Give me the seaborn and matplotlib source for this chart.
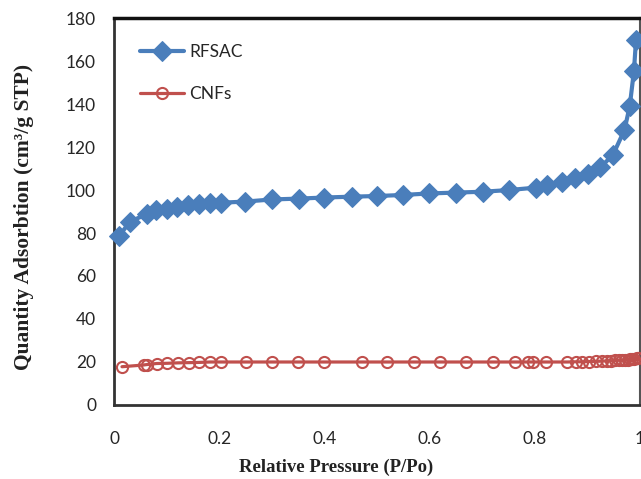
import matplotlib
matplotlib.use("Agg")
import matplotlib.pyplot as plt
import seaborn as sns
import pandas as pd

rfsac_x = [0.0095, 0.030, 0.062, 0.080, 0.100, 0.120, 0.141, 0.162, 0.183, 0.203,
           0.249, 0.300, 0.352, 0.400, 0.452, 0.500, 0.550, 0.600, 0.651, 0.702,
           0.752, 0.802, 0.823, 0.853, 0.876, 0.902, 0.925, 0.949, 0.971, 0.981,
           0.989, 0.993]
rfsac_y = [78.6, 85.2, 88.8, 90.7, 91.0, 92.2, 93.0, 93.3, 94.1, 94.1,
           94.6, 95.6, 96.0, 96.5, 96.9, 97.2, 97.7, 98.4, 98.8, 99.2,
           100.0, 101.1, 102.3, 103.9, 105.4, 107.4, 110.5, 116.3, 127.9, 139.0,
           155.3, 170.0]

cnf_x = [0.015, 0.056, 0.062, 0.081, 0.101, 0.122, 0.142, 0.162, 0.183, 0.203,
         0.250, 0.300, 0.350, 0.400, 0.472, 0.520, 0.570, 0.620, 0.670, 0.720,
         0.762, 0.788, 0.797, 0.822, 0.862, 0.878, 0.890, 0.903, 0.916, 0.928,
         0.938, 0.946, 0.953, 0.960, 0.966, 0.972, 0.977, 0.982, 0.986, 0.990,
         0.994, 0.997]
cnf_y = [17.8, 18.6, 18.8, 19.3, 19.4, 19.6, 19.7, 19.8, 20.0, 20.0,
         20.0, 20.0, 20.0, 20.0, 20.0, 20.0, 20.0, 20.0, 20.0, 20.0,
         20.0, 20.0, 20.0, 20.0, 20.0, 20.1, 20.1, 20.2, 20.3, 20.4,
         20.5, 20.6, 20.7, 20.8, 20.9, 21.0, 21.1, 21.3, 21.4, 21.6,
         21.8, 22.0]

x_ticks = [0, 0.2, 0.4, 0.6, 0.8, 1]
x_tick_labels = ["0", "0.2", "0.4", "0.6", "0.8", "1"]
y_ticks = [0, 20, 40, 60, 80, 100, 120, 140, 160, 180]

sns.set_style("white")
plt.rcParams['font.family'] = ['Lato', 'DejaVu Sans']

df_r = pd.DataFrame({"x": rfsac_x, "y": rfsac_y})
df_c = pd.DataFrame({"x": cnf_x, "y": cnf_y})

fig = plt.figure(figsize=(6.41, 4.79), dpi=100)
ax = fig.add_axes([0.178, 0.1545, 0.82, 0.8079])

blue = "#4A7EBB"
red = "#C0504D"
sns.lineplot(data=df_r, x="x", y="y", ax=ax, color=blue, lw=3, marker="D",
             markersize=10, markeredgecolor=blue, markerfacecolor=blue,
             sort=False, label="RFSAC", clip_on=False, zorder=3)
sns.lineplot(data=df_c, x="x", y="y", ax=ax, color=red, lw=2.3, marker="o",
             markersize=8, markeredgecolor=red, markerfacecolor="none",
             markeredgewidth=1.5, sort=False, label="CNFs", clip_on=False, zorder=3)

ax.set_xlim(0, 1)
ax.set_ylim(0, 180)
ax.set_xticks(x_ticks)
ax.set_xticklabels(x_tick_labels)
ax.set_yticks(y_ticks)
ax.tick_params(axis="both", which="both", direction="out", length=5, width=1,
               color="#888888", labelsize=12.5, labelcolor="#262626", pad=8)
ax.tick_params(axis="x", pad=14)

for side in ["left", "bottom"]:
    ax.spines[side].set_color("#333333")
    ax.spines[side].set_linewidth(2)
ax.spines["top"].set_color("#111111")
ax.spines["top"].set_linewidth(2.5)
ax.spines["right"].set_color("#555555")
ax.spines["right"].set_linewidth(1.5)

ax.set_xlabel("Relative Pressure (P/Po)", fontfamily="Liberation Serif",
              fontweight="bold", fontsize=13.5, color="#222222")
ax.xaxis.set_label_coords(0.422, -0.14)
ax.set_ylabel("Quantity Adsorbtion (cm³/g STP)", fontfamily="Liberation Serif",
              fontweight="bold", fontsize=15.5, color="#222222")
ax.yaxis.set_label_coords(-0.152, 0.485)

leg = ax.legend(loc="upper left", frameon=False, fontsize=12.5,
                labelspacing=1.5, handlelength=2.5, handletextpad=0.35,
                borderaxespad=1.1, bbox_to_anchor=(0.0, 1.0))

fig.savefig("out.png", dpi=100)
